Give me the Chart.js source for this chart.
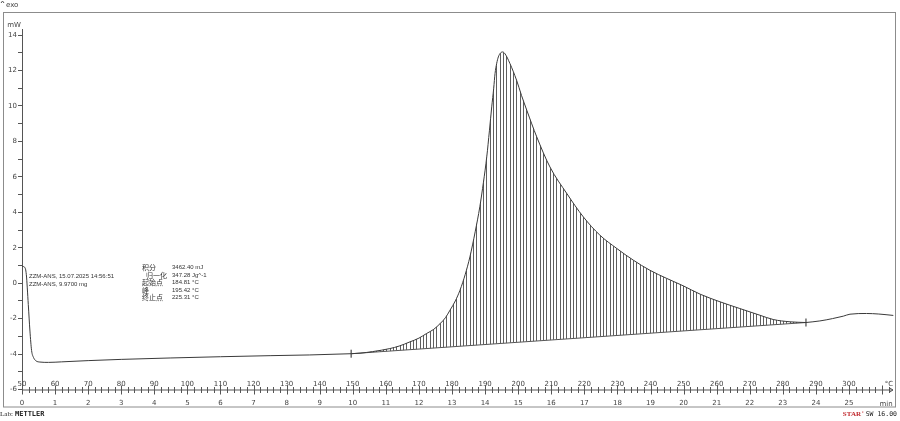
<!DOCTYPE html>
<html>
<head>
<meta charset="utf-8">
<script src="https://cdn.jsdelivr.net/npm/chart.js@4/dist/chart.umd.min.js"></script>
<style>
  html, body { margin: 0; padding: 0; background: #fff; }
  #wrap { width: 900px; height: 421px; position: relative; }
</style>
</head>
<body>
<div id="wrap"><canvas id="c" width="900" height="421"></canvas></div>
<script>
// DSC curve, temperature (°C) vs heat flow (mW)
// before the peak
var preT = [50, 50.8, 51.3, 51.9, 52.4, 52.9, 53.5, 54.2, 55.4, 58, 62, 70, 80, 95, 110, 125, 137, 149.5];
var preV = [0.95, 0.9, 0.5, -1.2, -2.7, -3.8, -4.2, -4.38, -4.45, -4.47, -4.44, -4.37, -4.3, -4.22, -4.15, -4.09, -4.05, -3.98];

// integrated peak
var peakT = [149.5, 152.2, 156, 161.2, 164, 167.3, 170, 172.3, 174.5, 176.4, 178, 179.4, 181, 182.4, 184, 185.4, 187, 188.4,
  189.5, 190.5, 191.3, 192, 192.6, 193, 193.5, 194, 194.6, 195.3, 196, 197.5, 199.5, 201, 202.6, 205.6, 209.6, 214.7,
  219.7, 224.7, 229.8, 234.8, 239.8, 244.9, 249.9, 255, 261, 267, 273.1, 277.1, 282.2, 287];
var peakV = [-3.98, -3.95, -3.86, -3.69, -3.55, -3.31, -3.1, -2.84, -2.6, -2.28, -1.95, -1.52, -1.0, -0.4, 0.5, 1.48, 2.9, 4.31,
  5.7, 7.13, 8.6, 9.95, 11.0, 11.83, 12.4, 12.77, 12.98, 13.05, 12.95, 12.4, 11.46, 10.6, 9.76, 8.26, 6.56, 5.06,
  3.74, 2.71, 1.96, 1.3, 0.73, 0.27, -0.15, -0.62, -1.05, -1.43, -1.81, -2.05, -2.18, -2.22];

// after the peak
var postT = [287, 291.2, 295, 298.3, 300.3, 305.3, 309, 313.4];
var postV = [-2.22, -2.13, -2.0, -1.86, -1.75, -1.71, -1.74, -1.82];

// integration baseline
var baseT = [149.5, 287];
var baseV = [-3.98, -2.22];

var yTicks = [-6, -5, -4, -3, -2, -1, 0, 1, 2, 3, 4, 5, 6, 7, 8, 9, 10, 11, 12, 13, 14];
var tempTicks = [50, 60, 70, 80, 90, 100, 110, 120, 130, 140, 150, 160, 170, 180, 190, 200, 210, 220, 230, 240, 250, 260, 270, 280, 290, 300];
var timeTicks = [0, 1, 2, 3, 4, 5, 6, 7, 8, 9, 10, 11, 12, 13, 14, 15, 16, 17, 18, 19, 20, 21, 22, 23, 24, 25];
var startT = 50, rate = 10; // °C, K/min

var infoLines = ['ZZM-ANS, 15.07.2025 14:56:51', 'ZZM-ANS, 9.9700 mg'];
var resultLabels = ['积分', '归一化', '起始点', '峰', '终止点'];
var resultValues = ['3462.40 mJ', '347.28 Jg^-1', '184.81 °C', '195.42 °C', '225.31 °C'];

function pts(xs, ys) {
  return xs.map(function(x, i) { return {x: x, y: ys[i]}; });
}

// vertical hatch for the integrated area
var canvas = document.getElementById('c');
var pc = document.createElement('canvas');
pc.width = 10; pc.height = 4;
var pg = pc.getContext('2d');
pg.fillStyle = '#5e5e5e';
[0, 3, 6].forEach(function(x) { pg.fillRect(x, 0, 1, 4); });
var hatch = canvas.getContext('2d').createPattern(pc, 'repeat');

var lineCol = '#3a3a3a';
var txtCol = '#444';

var decor = {
  id: 'decor',
  afterDraw: function(chart) {
    var ctx = chart.ctx, xs = chart.scales.x, ys = chart.scales.y;
    var y0 = ys.getPixelForValue(-6);
    ctx.save();
    // frame
    ctx.strokeStyle = '#8c8c8c';
    ctx.lineWidth = 1;
    ctx.strokeRect(3.5, 12.5, 892, 394.5);

    // x axis with arrow
    ctx.strokeStyle = '#555';
    ctx.beginPath();
    ctx.moveTo(xs.left, y0 + 0.5);
    ctx.lineTo(893, y0 + 0.5);
    ctx.moveTo(889, y0 - 2);
    ctx.lineTo(893, y0 + 0.5);
    ctx.lineTo(889, y0 + 3);
    for (var t = startT; t <= 312; t += 2) {
      var px = Math.round(xs.getPixelForValue(t)) + 0.5;
      var len = (t % 10 === 0) ? 4 : 2.5;
      ctx.moveTo(px, y0 - len);
      ctx.lineTo(px, y0 + len + 1);
    }
    ctx.stroke();

    ctx.fillStyle = txtCol;
    ctx.font = '7px "DejaVu Sans"';
    ctx.textAlign = 'center';
    ctx.textBaseline = 'middle';
    tempTicks.forEach(function(v) {
      ctx.fillText(String(v), xs.getPixelForValue(v), 384);
    });
    timeTicks.forEach(function(m) {
      ctx.fillText(String(m), xs.getPixelForValue(startT + rate * m), 403);
    });
    ctx.fillText('°C', 889, 384);
    ctx.fillText('min', 886, 404);
    ctx.fillText('mW', 14, 25);

    // top-left
    ctx.textAlign = 'left';
    ctx.fillText('exo', 6, 5);
    ctx.beginPath();
    ctx.moveTo(1, 3); ctx.lineTo(2.5, 1); ctx.lineTo(4, 3);
    ctx.stroke();

    // sample info
    ctx.fillStyle = '#333';
    ctx.font = '6px "Liberation Sans"';
    infoLines.forEach(function(s, i) { ctx.fillText(s, 29, 276 + i * 8); });

    // integration results
    var ry = [267, 275, 282.5, 290, 297.5];
    ctx.font = '7px "Noto Sans CJK SC", sans-serif';
    resultLabels.forEach(function(s, i) { ctx.fillText(s, i === 1 ? 146 : 142, ry[i]); });
    ctx.font = '6px "Liberation Sans"';
    resultValues.forEach(function(s, i) { ctx.fillText(s, 172, ry[i]); });

    // footer
    ctx.fillStyle = '#222';
    ctx.font = '7px "Liberation Serif"';
    ctx.fillText('Lab:', 0, 414);
    ctx.font = 'bold 7px "DejaVu Sans Mono"';
    ctx.fillText('METTLER', 15, 414);
    ctx.textAlign = 'right';
    ctx.font = '6.5px "DejaVu Sans Mono"';
    ctx.fillText('SW 16.00', 897, 414);
    ctx.fillStyle = '#c0282d';
    ctx.font = '4.5px "Liberation Serif"';
    ctx.fillText('e', 864, 412);
    ctx.font = 'bold 7px "Liberation Serif"';
    ctx.fillText('STAR', 861, 414);
    ctx.restore();
  }
};

var config = {
  type: 'line',
  data: {
    datasets: [
      { data: pts(preT, preV), borderColor: lineCol, borderWidth: 1, pointRadius: 0, fill: false,
        cubicInterpolationMode: 'monotone' },
      { data: pts(peakT, peakV), borderColor: lineCol, borderWidth: 1, pointRadius: 0,
        fill: '+1', backgroundColor: hatch, cubicInterpolationMode: 'monotone' },
      { data: pts(baseT, baseV), borderColor: '#555', borderWidth: 1, pointRadius: 0, fill: false },
      { data: pts(postT, postV), borderColor: lineCol, borderWidth: 1, pointRadius: 0, fill: false,
        cubicInterpolationMode: 'monotone' },
      { data: pts(baseT, baseV), showLine: false, pointStyle: 'line', rotation: 90, pointRadius: 4,
        borderColor: '#222', borderWidth: 1 }
    ]
  },
  options: {
    responsive: false,
    animation: false,
    layout: { padding: { top: 29.8, bottom: 31.5, left: 0, right: 5.7 } },
    plugins: { legend: { display: false }, tooltip: { enabled: false } },
    scales: {
      x: { type: 'linear', min: 50, max: 313.7, display: false },
      y: {
        type: 'linear', min: -6, max: 14.3, position: 'left',
        afterFit: function(s) { s.width = 22; },
        afterBuildTicks: function(s) {
          s.ticks = yTicks.map(function(v) { return {value: v}; });
        },
        border: { color: '#555' },
        grid: { drawOnChartArea: false, tickLength: 4, tickColor: '#555' },
        ticks: {
          padding: 1, color: txtCol, font: { family: 'DejaVu Sans', size: 7 },
          callback: function(v) { return v % 2 === 0 ? String(v) : ''; }
        }
      }
    }
  },
  plugins: [decor]
};

new Chart(canvas.getContext('2d'), config);
</script>
</body>
</html>
